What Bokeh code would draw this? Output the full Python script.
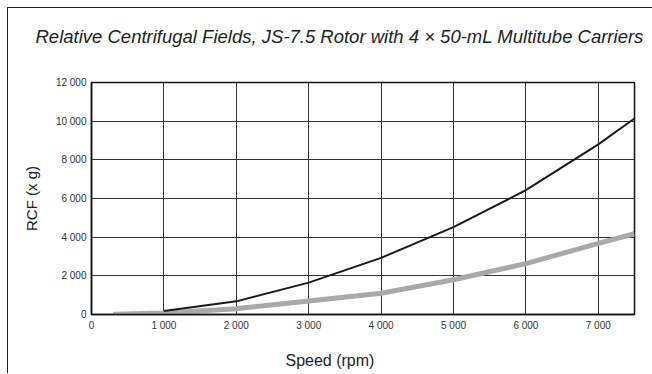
from bokeh.plotting import figure
from bokeh.models import Range1d, FixedTicker, Title
from bokeh.embed import file_html
from bokeh.resources import INLINE

# data
speed_black = [1000, 2000, 3000, 4000, 5000, 6000, 7000, 7500]
rcf_black = [180, 680, 1650, 2930, 4520, 6430, 8800, 10140]
speed_gray = [300, 1000, 2000, 3000, 4000, 5000, 6000, 7000, 7500]
rcf_gray = [10, 80, 300, 700, 1100, 1800, 2630, 3680, 4180]

x_ticks = [0, 1000, 2000, 3000, 4000, 5000, 6000, 7000]
x_tick_labels = ["0", "1 000", "2 000", "3 000", "4 000", "5 000", "6 000", "7 000"]
y_ticks = [0, 2000, 4000, 6000, 8000, 10000, 12000]
y_tick_labels = ["0", "2 000", "4 000", "6 000", "8 000", "10 000", "12 000"]

title_text = "Relative Centrifugal Fields, JS-7.5 Rotor with 4 \u00d7 50-mL Multitube Carriers"
x_label = "Speed (rpm)"
y_label = "RCF (x g)"

W, H = 646, 366
FONT = "Liberation Sans"

p = figure(width=W, height=H, output_backend="svg", toolbar_location=None,
           x_range=Range1d(0, 7500), y_range=Range1d(0, 12000),
           min_border_left=83, min_border_right=W - 626, min_border_top=74,
           min_border_bottom=H - 306)
p.border_fill_color = "white"
p.styles = {"margin-left": "7px", "margin-top": "7px",
            "border-left": "1px solid #222", "border-top": "1px solid #222"}

p.outline_line_color = "#111"
p.outline_line_width = 1.5

for ax, ticks, labels in ((p.xaxis, x_ticks, x_tick_labels), (p.yaxis, y_ticks, y_tick_labels)):
    ax.ticker = FixedTicker(ticks=ticks)
    ax.major_label_overrides = {t: l for t, l in zip(ticks, labels)}
    ax.major_tick_out = 0
    ax.major_tick_in = 0
    ax.minor_tick_out = 0
    ax.minor_tick_in = 0
    ax.axis_line_color = "#111"
    ax.axis_line_width = 1.5
    ax.major_label_text_font = FONT
    ax.major_label_text_font_size = "10px"
    ax.major_label_text_color = "#333"
p.xaxis.major_label_standoff = 5
p.yaxis.major_label_standoff = 5

p.yaxis.axis_label = y_label
p.yaxis.axis_label_text_font = FONT
p.yaxis.axis_label_text_font_size = "15px"
p.yaxis.axis_label_text_font_style = "normal"
p.yaxis.axis_label_text_color = "#222"
p.yaxis.axis_label_standoff = 13

p.xgrid.ticker = FixedTicker(ticks=x_ticks)
p.ygrid.ticker = FixedTicker(ticks=y_ticks)
for g in (p.xgrid, p.ygrid):
    g.grid_line_color = "#333"
    g.grid_line_width = 1

p.line(speed_gray, rcf_gray, line_color="#a9a9ab", line_width=5)
p.line(speed_black, rcf_black, line_color="#1a1a1a", line_width=2)

# spacer between frame and title (innermost), then the title itself
p.add_layout(Title(text=" ", text_font_size="10px", standoff=18), "above")
p.add_layout(Title(text=title_text, align="left", offset=-56, standoff=10,
                   text_font=FONT, text_font_size="18.5px", text_font_style="italic",
                   text_color="#222"), "above")
# spacer below the x axis, then the x label
p.add_layout(Title(text=" ", text_font_size="4px", standoff=4), "below")
p.add_layout(Title(text=x_label, align="left", offset=194, standoff=10,
                   text_font=FONT, text_font_size="16px", text_font_style="normal",
                   text_color="#222"), "below")

open("out.html", "w").write(file_html(p, INLINE))
